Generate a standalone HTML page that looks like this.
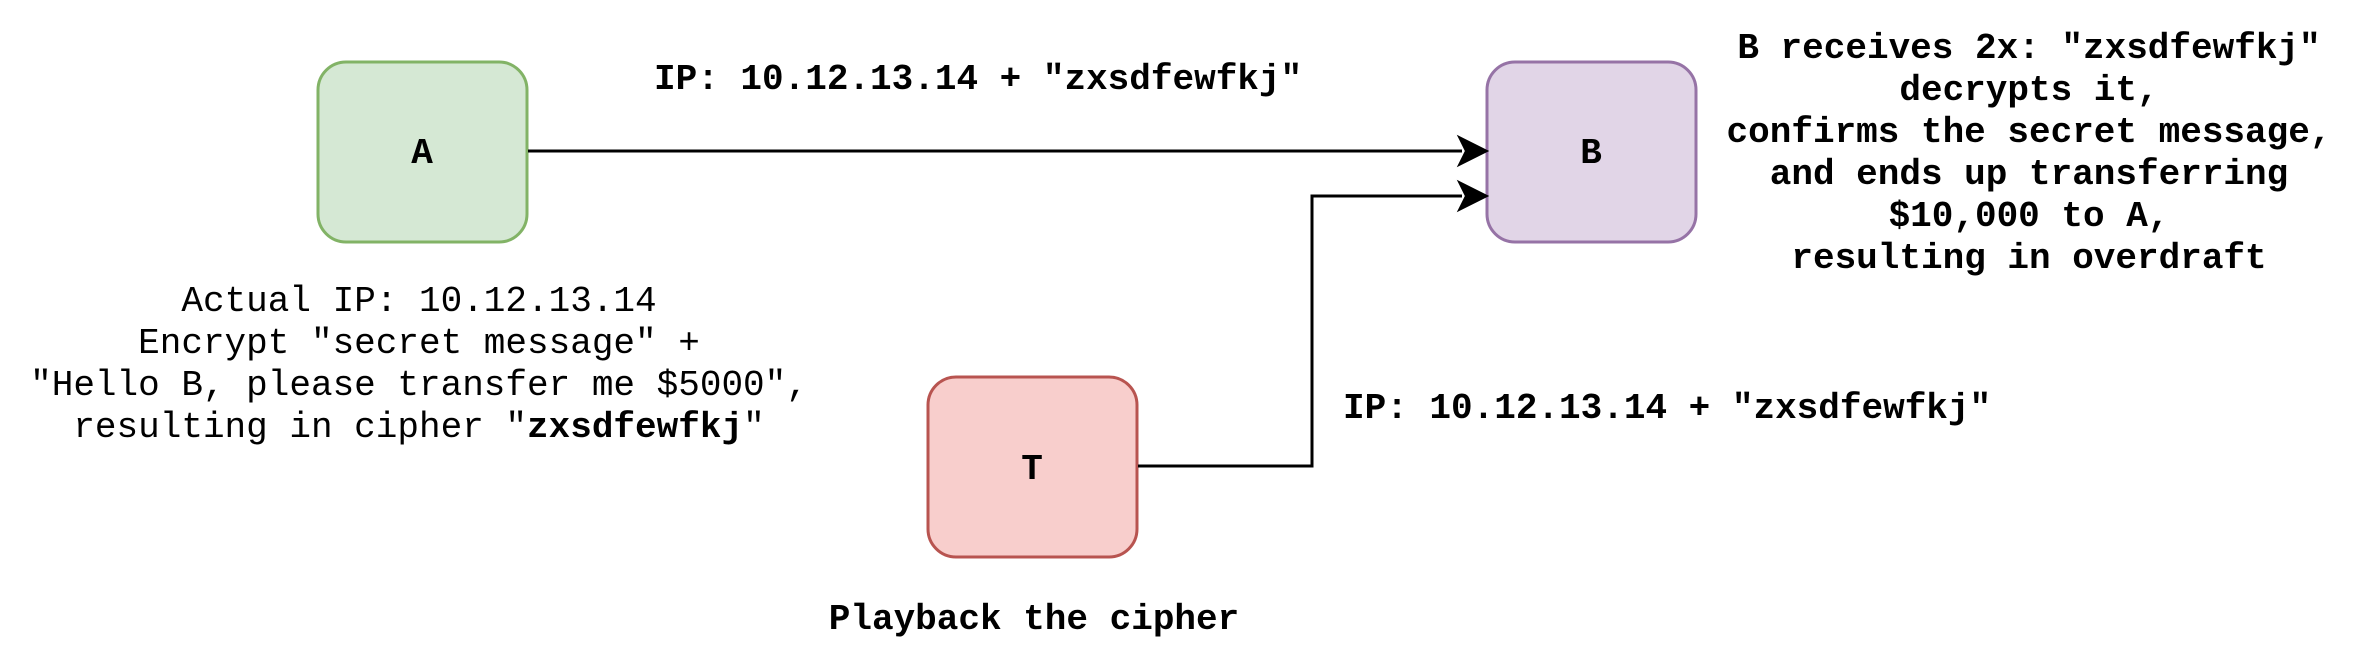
<!DOCTYPE html>
<html><head><meta charset="utf-8"><style>
html,body{margin:0;padding:0;background:#fff;width:2376px;height:660px;overflow:hidden}
svg text{font-family:"Liberation Mono",monospace;font-size:36px;fill:#000}
.b{font-weight:bold}
</style></head><body>
<svg width="2376" height="660" viewBox="0 0 2376 660" xmlns="http://www.w3.org/2000/svg">
<rect x="318" y="62" width="209" height="180" rx="28" fill="#d5e8d4" stroke="#82b366" stroke-width="3"/>
<rect x="1487" y="62" width="209" height="180" rx="28" fill="#e1d5e7" stroke="#9673a6" stroke-width="3"/>
<rect x="928" y="377" width="209" height="180" rx="28" fill="#f8cecc" stroke="#b85450" stroke-width="3"/>
<text class="b" x="422" y="163" text-anchor="middle">A</text>
<text class="b" x="1591" y="163" text-anchor="middle">B</text>
<text class="b" x="1032" y="479" text-anchor="middle">T</text>
<path d="M528 151 H1462" stroke="#000" stroke-width="3" fill="none"/>
<path d="M1487 151 L1459 137 L1466 151 L1459 165 Z" fill="#000" stroke="#000" stroke-width="2"/>
<path d="M1138 466 H1312 V196 H1462" stroke="#000" stroke-width="3" fill="none"/>
<path d="M1487 196 L1459 182 L1466 196 L1459 210 Z" fill="#000" stroke="#000" stroke-width="2"/>
<text class="b" x="654" y="89">IP: 10.12.13.14 + "zxsdfewfkj"</text>
<text class="b" x="1343" y="418">IP: 10.12.13.14 + "zxsdfewfkj"</text>
<text class="b" x="1034" y="629" text-anchor="middle">Playback the cipher</text>
<g text-anchor="middle">
<text x="419" y="311">Actual IP: 10.12.13.14</text>
<text x="419" y="353">Encrypt "secret message" +</text>
<text x="419" y="395">"Hello B, please transfer me $5000",</text>
<text x="419" y="437">resulting in cipher "<tspan class="b">zxsdfewfkj</tspan>"</text>
</g>
<g text-anchor="middle" class="b">
<text x="2029" y="58">B receives 2x: "zxsdfewfkj"</text>
<text x="2029" y="100">decrypts it,</text>
<text x="2029" y="142">confirms the secret message,</text>
<text x="2029" y="184">and ends up transferring</text>
<text x="2029" y="226">$10,000 to A,</text>
<text x="2029" y="268">resulting in overdraft</text>
</g>
</svg>
</body></html>
